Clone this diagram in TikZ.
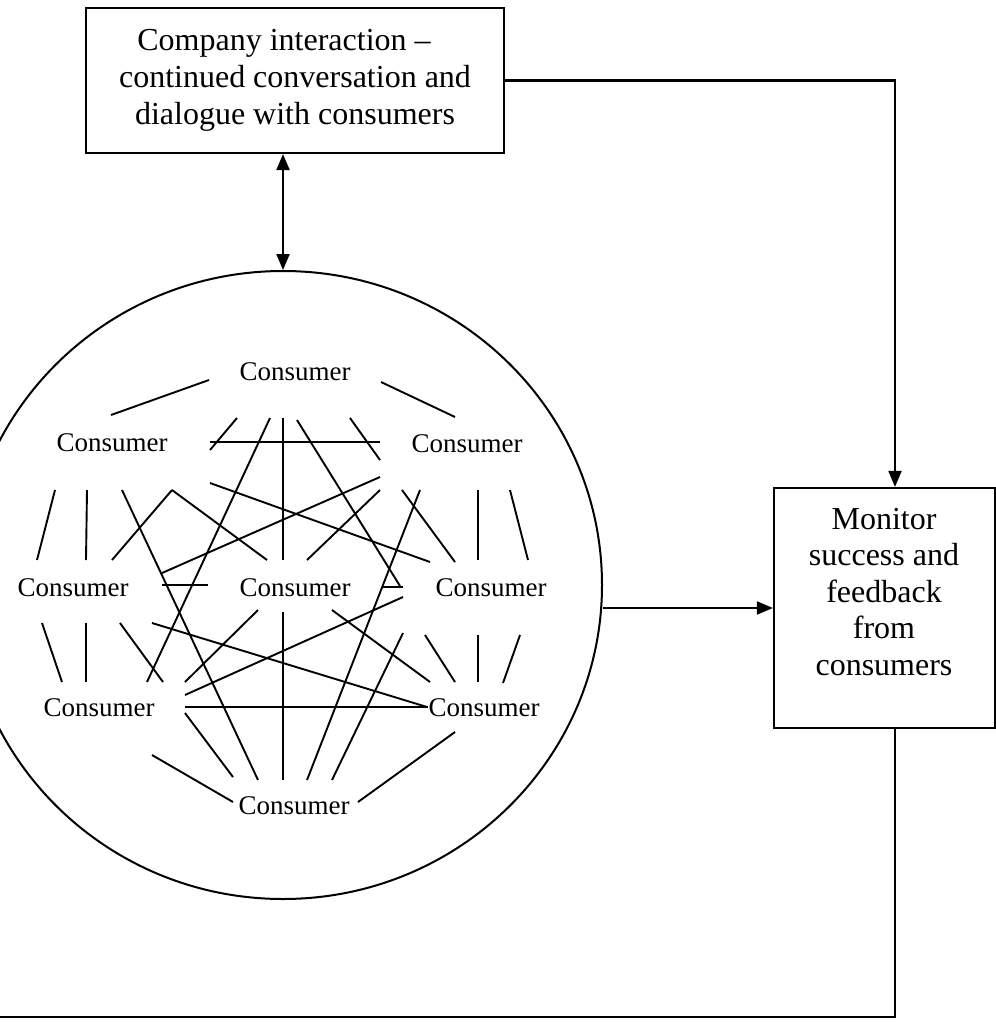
\documentclass[tikz,border=0pt]{standalone}
\usepackage{fontspec}
\setmainfont{Liberation Serif}
\usetikzlibrary{arrows.meta,calc,shapes.geometric}
% one stroke of the consumer network: from an offset of one node to an offset of another
\newcommand\netseg[4]{\draw[netline] ([shift={(#2)}]#1.center) -- ([shift={(#4)}]#3.center);}
\begin{document}
\begin{tikzpicture}[x=1pt,y=-1pt,
  >={Triangle[length=16pt,width=13pt]},
  frame/.style={draw,line width=2.2pt,inner sep=0pt},
  boxtext/.style={font=\fontsize{32}{37}\selectfont,align=center,inner sep=0pt},
  consumer/.style={font=\fontsize{27}{32}\selectfont,inner sep=0pt},
  netline/.style={line width=1.9pt},
  flow/.style={line width=2.1pt}]
\useasboundingbox (0,0) rectangle (996,1023);
\fill[white] (0,0) rectangle (996,1023);
\clip (0,0) rectangle (996,1023);

% boxes
\node[frame,boxtext,minimum width=418pt,minimum height=145pt] (company) at (295,80.5)
  {Company interaction \textendash\hspace*{22pt}\\continued conversation and\\dialogue with consumers};
\node[frame,minimum width=221pt,minimum height=240pt] (monitor) at (884.5,608) {};
\node[boxtext,font=\fontsize{32}{36.5}\selectfont] (monitortext) at (884,592)
  {Monitor\\success and\\feedback\\from\\consumers};

% the consumer crowd
\node[draw,ellipse,line width=2pt,inner sep=0pt,minimum width=638pt,minimum height=628pt] (crowd) at (283,585) {};
\node[consumer] (A) at (295,372) {Consumer};
\node[consumer] (B) at (112,443) {Consumer};
\node[consumer] (C) at (467,444) {Consumer};
\node[consumer] (D) at (73,588) {Consumer};
\node[consumer] (E) at (295,588) {Consumer};
\node[consumer] (F) at (491,588) {Consumer};
\node[consumer] (G) at (99,708) {Consumer};
\node[consumer] (H) at (484,708) {Consumer};
\node[consumer] (I) at (294,806) {Consumer};

% consumer-to-consumer conversations
\netseg{B}{-1,-28}{A}{-86,8}
\netseg{A}{86,10}{C}{-12,-27}
\netseg{A}{-58,46}{B}{98,7}
\netseg{B}{98,-1}{C}{-87,-2}
\netseg{A}{-25,46}{G}{48,-26}
\netseg{A}{-12,46}{E}{-12,-28}
\netseg{A}{2,48}{F}{-91,-2}
\netseg{A}{55,46}{C}{-87,16}
\netseg{C}{-65,46}{F}{-36,-26}
\netseg{B}{98,40}{F}{-61,-26}
\netseg{D}{89,-15}{C}{-87,33}
\netseg{B}{60,47}{E}{-28,-28}
\netseg{B}{60,47}{D}{39,-28}
\netseg{B}{-57,47}{D}{-36,-28}
\netseg{B}{-25,47}{D}{13,-28}
\netseg{B}{10,47}{I}{-36,-26}
\netseg{D}{89,-3}{E}{-87,-3}
\netseg{C}{-87,46}{E}{12,-28}
\netseg{C}{-47,46}{I}{13,-26}
\netseg{C}{11,46}{F}{-13,-28}
\netseg{C}{43,46}{F}{37,-28}
\netseg{E}{87,-1}{F}{-88,-1}
\netseg{F}{-88,9}{G}{86,-13}
\netseg{E}{37,22}{H}{-54,-26}
\netseg{D}{79,35}{H}{-57,-1}
\netseg{F}{-88,45}{I}{38,-26}
\netseg{F}{-66,47}{H}{-29,-26}
\netseg{F}{-13,47}{H}{-6,-26}
\netseg{F}{29,47}{H}{19,-25}
\netseg{G}{86,-1}{H}{-56,-1}
\netseg{H}{-29,24}{I}{64,-4}
\netseg{D}{-31,35}{G}{-37,-26}
\netseg{D}{13,35}{G}{-13,-26}
\netseg{D}{47,35}{G}{64,-26}
\netseg{E}{-37,22}{G}{86,-26}
\netseg{E}{-12,24}{I}{-11,-26}
\netseg{G}{86,5}{I}{-61,-29}
\netseg{G}{53,47}{I}{-61,-4}

% flows between company, crowd and monitoring
\coordinate (drop) at ([xshift=10.5pt]monitor.north);
\coordinate (rise) at ([xshift=10.5pt]monitor.south);
\coordinate (loopend) at (-10,1017);
\draw[flow,<->] (crowd.north |- company.south) -- (crowd.north);
\draw[flow,->] (monitor.west -| crowd.east) -- (monitor.west);
\draw[flow,->] (company.east) -| (drop);
\draw[flow] (rise) |- (loopend);
\end{tikzpicture}
\end{document}
